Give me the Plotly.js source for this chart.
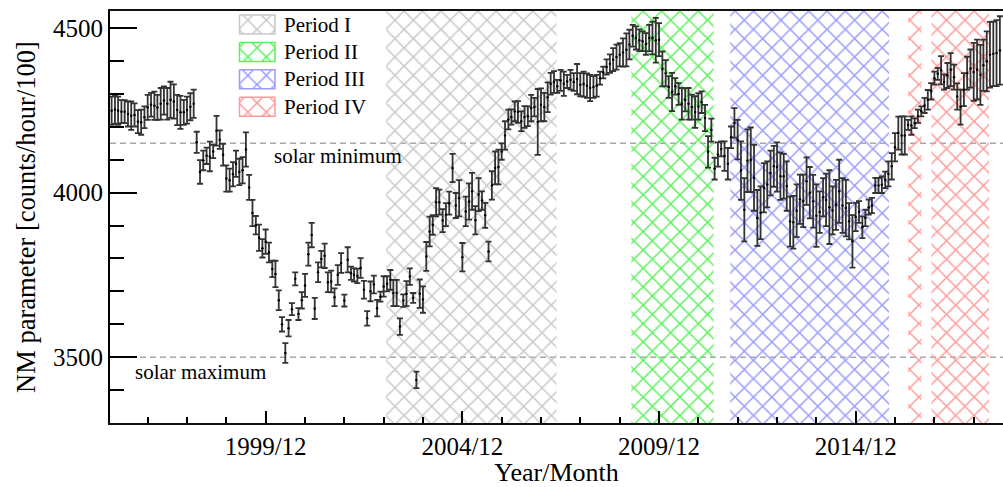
<!DOCTYPE html>
<html><head><meta charset="utf-8">
<script src="https://cdn.plot.ly/plotly-3.0.1.min.js"></script>
<style>html,body{margin:0;padding:0;background:#fff}#chart{width:1003px;height:487px}</style>
</head><body><div id="chart"></div>
<script>
// monthly series starting 1996/01
const startYear = 1996;
const nmValues = [
4249,4253,4249,4246,4246,4239,4234,4236,4216,4214,4229,4259,4267,4264,4259,4270,4280,4270,4282,4277,4251,4244,4244,4251,4261,4270,
4153,4063,4098,4112,4110,4125,4188,4161,4115,4043,4038,4056,4088,4063,4068,4131,4016,3938,3901,3863,3831,3851,3818,3768,3753,3673,3600,3513,3588,3646,3738,3631,3673,3718,3813,3871,3648,3758,3798,3808,3728,
3730,3682,3750,3786,3672,3796,3755,3750,3747,3771,3705,3618,3700,3721,3649,3684,3715,3723,3735,3695,3695,3593,3672,3693,3745,3680,3431,3693,3675,3806,3882,3902,3971,3971,3915,3933,3968,4075,3961,3983,3804,3943,3973,4004,3916,3994,3976,3931,3821,4022,4075,4078,4125,4174,4222,4230,4247,4245,4217,4230,4232,4257,4260,4215,4267,4260,4290,4331,4336,4323,
4341,4331,4338,4343,4336,4345,4328,4330,4325,4318,4321,4325,4348,4365,4382,4392,4404,4412,4419,4426,4434,4450,4477,4470,4463,4460,4452,4470,4470,4463,4465,4376,4363,4321,4306,4323,4300,4270,4282,4270,4260,4245,4262,4275,4227,4124,4190,4073,4116,4133,4111,4088,4168,4212,4161,4067,3948,4097,4100,4045,3923,3939,4015,4025,4060,4080,4078,
4050,4050,4020,3912,3910,3945,3980,3975,4035,4000,3974,3930,3941,3986,3978,3956,3946,3963,4004,3961,3953,3913,3852,3926,3941,3895,3923,3956,3961,4022,4022,4024,4039,4057,4080,4138,4181,4174,4174,4206,4204,4211,4232,4247,4265,4282,4308,4348,4361,4372,4336,4356,4374,4351,4292,4260,4313,4363,4377,4367,4374,4358,4387,4399,4419,4422,4424,4432
];
const nmErrors = [
43,43,43,35,35,38,43,35,35,38,33,38,36,43,38,48,43,48,55,52,46,50,38,41,41,43,
32,36,30,25,45,20,45,28,33,40,35,37,40,40,40,52,38,40,28,40,28,37,30,25,40,30,22,30,25,18,20,18,25,35,35,37,32,30,25,37,30,
33,27,30,30,18,38,20,20,22,30,27,22,30,27,25,15,31,23,30,40,40,25,19,38,25,15,25,43,40,44,45,30,43,38,35,35,35,43,38,55,43,45,55,56,43,50,28,38,30,43,50,53,25,43,30,23,30,33,30,33,30,40,28,100,50,43,45,33,33,20,
32,37,20,30,27,46,35,38,37,40,33,33,20,18,23,28,35,38,35,43,50,45,33,35,33,30,33,40,50,68,50,53,40,33,58,25,33,48,35,48,38,48,40,33,40,48,35,33,37,23,45,48,33,45,60,89,96,95,98,100,85,80,75,70,68,62,75,
72,68,75,76,80,80,75,80,72,78,80,95,63,58,80,112,73,76,96,83,86,55,80,43,33,33,25,23,23,23,23,25,25,38,40,43,50,58,58,15,28,15,20,15,23,30,25,20,18,43,23,38,50,38,40,53,50,50,58,88,91,91,78,91,100,98,100,104
];
const periodNames = ['Period I','Period II','Period III','Period IV'];
const periodColors = ['#c8c8c8','#5cf05c','#9a9aff','#ff9a9a'];
const periodSpans = [
  [['2003-01-08','2007-05-10']],
  [['2009-04-03','2011-05-08']],
  [['2011-10-08','2015-10-22']],
  [['2016-04-16','2016-08-18'],['2016-11-18','2018-05-08']]
];
const solarLevelNames = ['solar minimum','solar maximum'];
const solarLevelValues = [4150, 3500];
const xTickVals = ['1999-12-16','2004-12-16','2009-12-16','2014-12-16'];
const xTickText = ['1999/12','2004/12','2009/12','2014/12'];
const xMinorYears = [1996,1997,1998,2000,2001,2002,2003,2005,2006,2007,2008,2010,2011,2012,2013,2015,2016,2017];
const yTickVals = [3500,4000,4500];
const yMinorVals = [3400,3600,3700,3800,3900,4100,4200,4300,4400];
const yRange = [3300, 4552];
const xRange = ['1996-01-01','2018-09-14'];

const FONT = 'Liberation Serif, Times New Roman, serif';
const dates = nmValues.map((_, i) => {
  const y = startYear + Math.floor(i / 12);
  const m = i % 12 + 1;
  return y + '-' + String(m).padStart(2, '0') + '-16';
});

const traces = [];
const pat = (c) => ({shape: 'x', size: 13, solidity: 0.22, fgcolor: c, bgcolor: 'rgba(0,0,0,0)', fillmode: 'replace'});
periodSpans.forEach((spans, k) => {
  spans.forEach(([a, b]) => {
    traces.push({
      type: 'scatter', mode: 'lines', x: [a, b, b, a, a],
      y: [yRange[0], yRange[0], yRange[1], yRange[1], yRange[0]],
      fill: 'toself', fillcolor: 'rgba(0,0,0,0)', fillpattern: pat(periodColors[k]),
      line: {width: 0}, hoverinfo: 'skip', showlegend: false
    });
  });
});

traces.push({
  type: 'scatter', mode: 'markers', x: dates, y: nmValues,
  marker: {size: 2.5, color: '#000'},
  error_y: {type: 'data', array: nmErrors, visible: true, color: '#333', thickness: 1.8, width: 3},
  showlegend: false, name: 'NM'
});

// legend boxes (overlay axes in pixel units of the plot area)
const annotations = [];
periodNames.forEach((n, k) => {
  const top = 4 + 27.4 * k, bot = top + 19;
  traces.push({
    type: 'scatter', mode: 'lines', xaxis: 'x2', yaxis: 'y2',
    x: [129.5, 165, 165, 129.5, 129.5], y: [top, top, bot, bot, top],
    fill: 'toself', fillcolor: 'rgba(0,0,0,0)', fillpattern: pat(periodColors[k]),
    line: {width: 1.5, color: periodColors[k]}, hoverinfo: 'skip', showlegend: false
  });
  annotations.push({xref: 'x2', yref: 'y2', x: 172, y: top + 9.5, xanchor: 'left', yanchor: 'middle',
    text: n, showarrow: false, font: {family: FONT, size: 21, color: '#000'}});
});

annotations.push({xref: 'x', yref: 'y', x: '2000-02-13', y: 4110, xanchor: 'left', yanchor: 'middle',
  text: solarLevelNames[0], showarrow: false, font: {family: FONT, size: 21, color: '#000'}});
annotations.push({xref: 'x', yref: 'y', x: '1996-08-02', y: 3456, xanchor: 'left', yanchor: 'middle',
  text: solarLevelNames[1], showarrow: false, font: {family: FONT, size: 21, color: '#000'}});

const shapes = solarLevelValues.map(v => ({
  type: 'line', xref: 'paper', x0: 0, x1: 1, yref: 'y', y0: v, y1: v,
  line: {color: '#a8a8a8', width: 1.5, dash: '6px,4px'}, layer: 'below'
}));

const layout = {
  width: 1003, height: 487,
  margin: {l: 110, r: 0, t: 11, b: 64},
  paper_bgcolor: '#fff', plot_bgcolor: '#fff',
  font: {family: FONT, color: '#000'},
  showlegend: false,
  xaxis: {
    type: 'date', range: xRange, showgrid: false, zeroline: false,
    showline: true, linecolor: '#111', linewidth: 2, mirror: true,
    tickmode: 'array', tickvals: xTickVals, ticktext: xTickText,
    ticks: 'inside', ticklen: 12, tickwidth: 2, tickcolor: '#000',
    tickfont: {family: FONT, size: 25, color: '#000'},
    minor: {tickmode: 'array', tickvals: xMinorYears.map(y => y + '-12-16'), ticks: 'inside', ticklen: 6, tickwidth: 2, tickcolor: '#000', showgrid: false},
    title: {text: 'Year/Month', font: {family: FONT, size: 26, color: '#000'}, standoff: 6}
  },
  yaxis: {
    range: yRange, showgrid: false, zeroline: false,
    showline: true, linecolor: '#000', linewidth: 2, mirror: false,
    tickmode: 'array', tickvals: yTickVals,
    ticks: 'inside', ticklen: 27, tickwidth: 2, tickcolor: '#000',
    tickfont: {family: FONT, size: 25, color: '#000'},
    minor: {tickmode: 'array', tickvals: yMinorVals, ticks: 'inside', ticklen: 14, tickwidth: 2, tickcolor: '#000', showgrid: false},
    title: {text: 'NM parameter [counts/hour/100]', font: {family: FONT, size: 26.5, color: '#000'}, standoff: 10}
  },
  xaxis2: {overlaying: 'x', anchor: 'y2', range: [0, 893], visible: false, fixedrange: true},
  yaxis2: {overlaying: 'y', anchor: 'x2', range: [412, 0], visible: false, fixedrange: true},
  shapes: shapes,
  annotations: annotations
};

Plotly.newPlot('chart', traces, layout, {displayModeBar: false, staticPlot: true});
</script></body></html>
